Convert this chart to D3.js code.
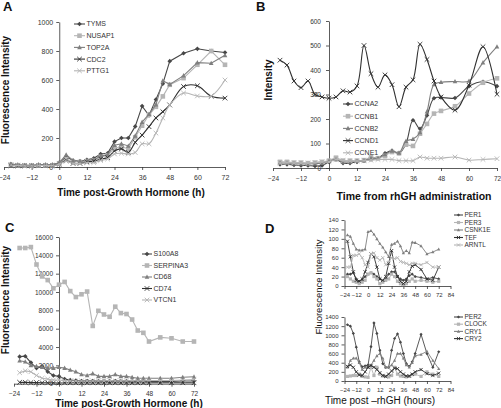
<!DOCTYPE html>
<html><head><meta charset="utf-8">
<script src="https://cdn.jsdelivr.net/npm/d3@7/dist/d3.min.js"></script>
<style>body{margin:0;background:#fff}svg{display:block;font-family:"Liberation Sans",Arial,sans-serif}</style>
</head><body><svg id="c" width="501" height="408"></svg>
<script>
const times = [-21,-18,-15,-12,-9,-6,-3,0,3,6,9,12,15,18,21,24,27,30,33,36,39,42,45,48,54,60,66,72];
const xTicks = [-24,-12,0,12,24,36,48,60,72];
const dXTicks = [-24,-12,0,12,24,36,48,60,72,84];
const aYTicks = [0,200,400,600,800,1000];
const bYTicks = [0,100,200,300,400,500,600];
const cYTicks = [0,2000,4000,6000,8000,10000,12000,14000,16000];
const dTopYTicks = [0,20,40,60,80,100,120,140];
const dBotYTicks = [0,200,400,600,800,1000,1200,1400];

// Panel A
const aTYMS = [20,15,12,10,15,15,15,30,70,45,40,50,60,90,95,175,200,200,280,420,355,465,575,730,785,815,800,790];
const aNUSAP1 = [15,12,10,10,12,12,12,25,55,35,35,40,45,70,80,130,140,125,205,285,360,415,487,567,613,705,800,705];
const aTOP2A = [18,14,12,12,15,15,15,30,85,45,40,45,50,75,85,150,160,145,215,310,365,430,595,570,630,720,716,770];
const aCDC2 = [10,8,8,8,10,10,10,20,45,25,25,35,40,55,65,110,125,100,170,220,278,338,381,428,555,560,488,475];
const aPTTG1 = [12,10,8,8,10,10,10,20,40,25,25,30,30,45,55,90,95,90,100,160,160,234,338,428,510,490,490,600];
// Panel B
const bCCNA2 = [15,15,12,10,10,8,10,25,35,20,20,25,30,35,40,60,70,60,100,195,160,215,285,288,286,334,352,334];
const bCCNB1 = [25,25,22,22,20,22,25,30,42,30,30,30,32,45,40,50,65,60,95,90,140,180,222,233,252,304,348,366];
const bCCNB2 = [20,20,18,18,16,18,20,28,35,25,25,28,30,40,40,55,70,62,110,118,145,230,341,350,353,355,430,495];
const bCCND1 = [440,420,355,328,355,300,290,285,290,315,310,335,500,385,330,380,340,250,330,360,505,443,355,290,236,338,495,301];
const bCCNE1 = [20,22,20,20,20,22,25,25,35,30,28,28,30,32,35,35,35,30,30,30,45,40,40,40,45,32,35,38];
// Panel C
const cS100A8 = [2950,3000,2300,1700,1900,1300,900,800,500,400,350,300,300,300,250,250,250,300,250,250,250,250,250,250,250,250,300,300];
const cSERPINA3 = [14800,14800,14900,13000,11700,11300,10400,10800,11100,10100,9450,9750,10050,6300,7950,7550,7300,8400,7700,7600,7000,5800,5550,4600,5050,4950,4600,4600];
const cCD68 = [2500,2400,2000,1900,1800,1700,1700,1800,1700,1500,1300,1000,900,1100,800,800,800,1000,800,800,700,600,600,600,600,600,700,750];
const cCD74 = [150,150,120,120,100,100,100,80,100,100,100,100,100,100,100,100,100,100,100,100,100,100,100,100,100,100,100,100];
const cVTCN1 = [1200,1400,1300,900,600,500,400,400,350,300,300,300,300,300,300,300,350,300,300,300,350,300,300,350,350,350,400,450];
// Panel D top
const dPER1 = [25,25,28,15,10,12,20,25,28,25,20,15,10,15,25,30,30,20,15,12,15,22,25,20,18,15,18,15];
const dPER3 = [20,15,10,8,5,8,12,25,28,20,15,5,8,12,15,25,20,10,5,3,5,10,15,10,12,10,8,10];
const dCSNK1E = [108,105,90,78,76,76,78,115,117,110,100,90,82,72,62,88,90,95,85,70,75,70,93,92,85,68,72,78];
const dTEF = [95,62,30,12,10,15,30,50,68,62,40,15,12,20,48,75,40,20,10,5,10,30,42,45,35,15,12,40];
const dARNTL = [40,40,65,65,68,60,45,40,68,70,60,55,60,45,50,60,58,60,52,50,48,45,48,48,45,50,40,40];
// Panel D bottom
const dPER2 = [1230,1200,1040,740,420,310,330,350,750,1270,1040,670,380,300,300,670,930,1030,850,600,380,320,420,600,1020,600,300,640];
const dCLOCK = [100,110,120,120,150,100,90,80,300,120,300,150,110,100,90,120,300,150,110,100,90,100,140,150,100,200,150,100];
const dCRY1 = [300,450,500,500,400,250,300,300,350,450,550,600,500,300,300,350,450,600,600,500,350,300,400,550,580,650,450,270];
const dCRY2 = [320,350,300,200,130,120,200,300,340,300,250,180,120,100,150,220,280,270,200,150,110,110,150,200,250,160,120,170];

const DARK = "#474747", MID = "#7f7f7f", LIGHT = "#b5b5b5";
const svg = d3.select("#c");
const fmt = d3.format("d");

function markerPath(type, s) {
  if (type === "diamond") return `M0,${-s}L${s},0L0,${s}L${-s},0Z`;
  if (type === "square") return `M${-s},${-s}H${s}V${s}H${-s}Z`;
  if (type === "triangle") return `M0,${-s*1.1}L${s},${s*0.8}L${-s},${s*0.8}Z`;
  return `M${-s},${-s}L${s},${s}M${-s},${s}L${s},${-s}`;
}
function drawMarker(g, type, x, y, s, color) {
  const p = g.append("path").attr("d", markerPath(type, s)).attr("transform", `translate(${x},${y})`);
  if (type === "x") p.attr("fill", "none").attr("stroke", color).attr("stroke-width", 0.9);
  else p.attr("fill", color).attr("stroke", "none");
}

function panel(cfg) {
  const g = svg.append("g");
  const x = d3.scaleLinear().domain(cfg.xDomain).range(cfg.xRange);
  const y = d3.scaleLinear().domain(cfg.yDomain).range(cfg.yRange);
  const axX = x(cfg.yAxisAt);
  const xa = d3.axisBottom(x).tickValues(cfg.xTicks).tickFormat(fmt).tickSize(3).tickSizeOuter(0).tickPadding(cfg.xPad || 5);
  const gx = g.append("g").attr("transform", `translate(0,${y(0)})`).call(xa);
  gx.select(".domain").attr("stroke", "#333").attr("stroke-width", 0.8);
  gx.selectAll(".tick line").attr("stroke", "#333").attr("stroke-width", 0.8);
  gx.selectAll("text").attr("font-size", cfg.tickFont).attr("fill", "#333").attr("font-family", "Liberation Sans, Arial, sans-serif");
  const ya = d3.axisLeft(y).tickValues(cfg.yTicks).tickFormat(fmt).tickSize(3).tickSizeOuter(0).tickPadding(cfg.yPad || 3);
  const gy = g.append("g").attr("transform", `translate(${axX},0)`).call(ya);
  gy.select(".domain").attr("stroke", "#333").attr("stroke-width", 0.8);
  gy.selectAll(".tick line").attr("stroke", "#333").attr("stroke-width", 0.8);
  gy.selectAll("text").attr("font-size", cfg.tickFont).attr("fill", "#333").attr("font-family", "Liberation Sans, Arial, sans-serif");
  cfg.series.forEach(s => {
    const pts = times.map((t, i) => [x(t), y(s.values[i])]);
    const line = d3.line().curve(s.smooth ? d3.curveCatmullRom.alpha(0.5) : d3.curveLinear);
    g.append("path").attr("d", line(pts)).attr("fill", "none").attr("stroke", s.color).attr("stroke-width", cfg.lw || 1.1);
    pts.forEach(p => drawMarker(g, s.marker, p[0], p[1], cfg.ms, s.color));
  });
  const L = cfg.legend;
  cfg.series.forEach((s, i) => {
    const ly = L.y + i * L.dy;
    g.append("line").attr("x1", L.x).attr("x2", L.x + L.len).attr("y1", ly).attr("y2", ly).attr("stroke", s.color).attr("stroke-width", 1.1);
    drawMarker(g, s.marker, L.x + L.len / 2, ly, cfg.ms, s.color);
    g.append("text").attr("x", L.x + L.len + 1.5).attr("y", ly).attr("dy", "0.35em").attr("font-size", L.font).attr("fill", "#333").text(s.name);
  });
  return {x, y};
}

panel({
  xDomain: [-24, 72], xRange: [4, 225], yDomain: [0, 1000], yRange: [167, 22], yAxisAt: 0,
  xTicks: xTicks, yTicks: aYTicks, tickFont: 7, ms: 2.3,
  series: [
    {name: "TYMS", values: aTYMS, color: DARK, marker: "diamond"},
    {name: "NUSAP1", values: aNUSAP1, color: LIGHT, marker: "square"},
    {name: "TOP2A", values: aTOP2A, color: MID, marker: "triangle"},
    {name: "CDC2", values: aCDC2, color: "#303030", marker: "x", smooth: true},
    {name: "PTTG1", values: aPTTG1, color: LIGHT, marker: "x", smooth: true}
  ],
  legend: {x: 74, y: 24, dy: 11.7, len: 11, font: 7}
});
panel({
  xDomain: [-24, 72], xRange: [273, 497], yDomain: [0, 600], yRange: [168, 21], yAxisAt: 0,
  xTicks: xTicks, yTicks: bYTicks, tickFont: 6.5, ms: 2.3, yPad: 5,
  series: [
    {name: "CCNA2", values: bCCNA2, color: DARK, marker: "diamond", smooth: true},
    {name: "CCNB1", values: bCCNB1, color: LIGHT, marker: "square", smooth: true},
    {name: "CCNB2", values: bCCNB2, color: MID, marker: "triangle", smooth: true},
    {name: "CCND1", values: bCCND1, color: "#303030", marker: "x", smooth: true},
    {name: "CCNE1", values: bCCNE1, color: LIGHT, marker: "x", smooth: true}
  ],
  legend: {x: 343, y: 104, dy: 12.2, len: 10, font: 7}
});
panel({
  xDomain: [-24, 72], xRange: [14, 194], yDomain: [0, 16000], yRange: [383.7, 237], yAxisAt: 0,
  xTicks: xTicks, yTicks: cYTicks, tickFont: 6.5, ms: 2.3,
  series: [
    {name: "S100A8", values: cS100A8, color: DARK, marker: "diamond"},
    {name: "SERPINA3", values: cSERPINA3, color: LIGHT, marker: "square"},
    {name: "CD68", values: cCD68, color: MID, marker: "triangle"},
    {name: "CD74", values: cCD74, color: "#303030", marker: "x"},
    {name: "VTCN1", values: cVTCN1, color: LIGHT, marker: "x"}
  ],
  legend: {x: 142, y: 254, dy: 11.5, len: 10, font: 7}
});
panel({
  xDomain: [-24, 84], xRange: [344.5, 450.5], yDomain: [0, 140], yRange: [286, 220], yAxisAt: -24,
  xTicks: dXTicks, yTicks: dTopYTicks, tickFont: 6, ms: 1.6, lw: 0.9, xPad: 4,
  series: [
    {name: "PER1", values: dPER1, color: DARK, marker: "diamond"},
    {name: "PER3", values: dPER3, color: LIGHT, marker: "square"},
    {name: "CSNK1E", values: dCSNK1E, color: MID, marker: "triangle"},
    {name: "TEF", values: dTEF, color: "#303030", marker: "x"},
    {name: "ARNTL", values: dARNTL, color: LIGHT, marker: "x"}
  ],
  legend: {x: 454, y: 215, dy: 7.5, len: 9, font: 6.5}
});
panel({
  xDomain: [-24, 84], xRange: [344.5, 450.5], yDomain: [0, 1400], yRange: [381, 317], yAxisAt: -24,
  xTicks: dXTicks, yTicks: dBotYTicks, tickFont: 6, ms: 1.6, lw: 0.9, xPad: 4,
  series: [
    {name: "PER2", values: dPER2, color: DARK, marker: "diamond"},
    {name: "CLOCK", values: dCLOCK, color: LIGHT, marker: "square"},
    {name: "CRY1", values: dCRY1, color: MID, marker: "triangle"},
    {name: "CRY2", values: dCRY2, color: "#303030", marker: "x"}
  ],
  legend: {x: 454, y: 317, dy: 7.2, len: 9, font: 6.5}
});

function txt(x, y, s, size, weight, anchor, rot) {
  const t = svg.append("text").attr("x", x).attr("y", y).attr("font-size", size)
    .attr("font-weight", weight).attr("text-anchor", anchor || "start").attr("fill", "#111").text(s);
  if (rot) t.attr("transform", `rotate(-90,${x},${y})`);
  return t;
}
txt(3, 11, "A", 13, "bold");
txt(256, 11, "B", 13, "bold");
txt(5, 232, "C", 13, "bold");
txt(265, 233, "D", 13, "bold");
txt(131, 195.5, "Time post-Growth Hormone (h)", 10, "bold", "middle");
txt(9, 90, "Fluorescence Intensity", 10, "bold", "middle", true);
txt(414, 199.5, "Time from rhGH administration", 10.5, "bold", "middle");
txt(272, 80, "Intensity", 10, "bold", "middle", true);
txt(129, 406.5, "Time post-Growth Hormone (h)", 10, "bold", "middle");
txt(9, 300, "Fluorescence Intensity", 10, "bold", "middle", true);
txt(380, 403.5, "Time post \u2013rhGH (hours)", 10, "normal", "middle");
txt(322, 287, "Fluorescence Intensity", 9.5, "normal", "middle", true);
</script></body></html>
